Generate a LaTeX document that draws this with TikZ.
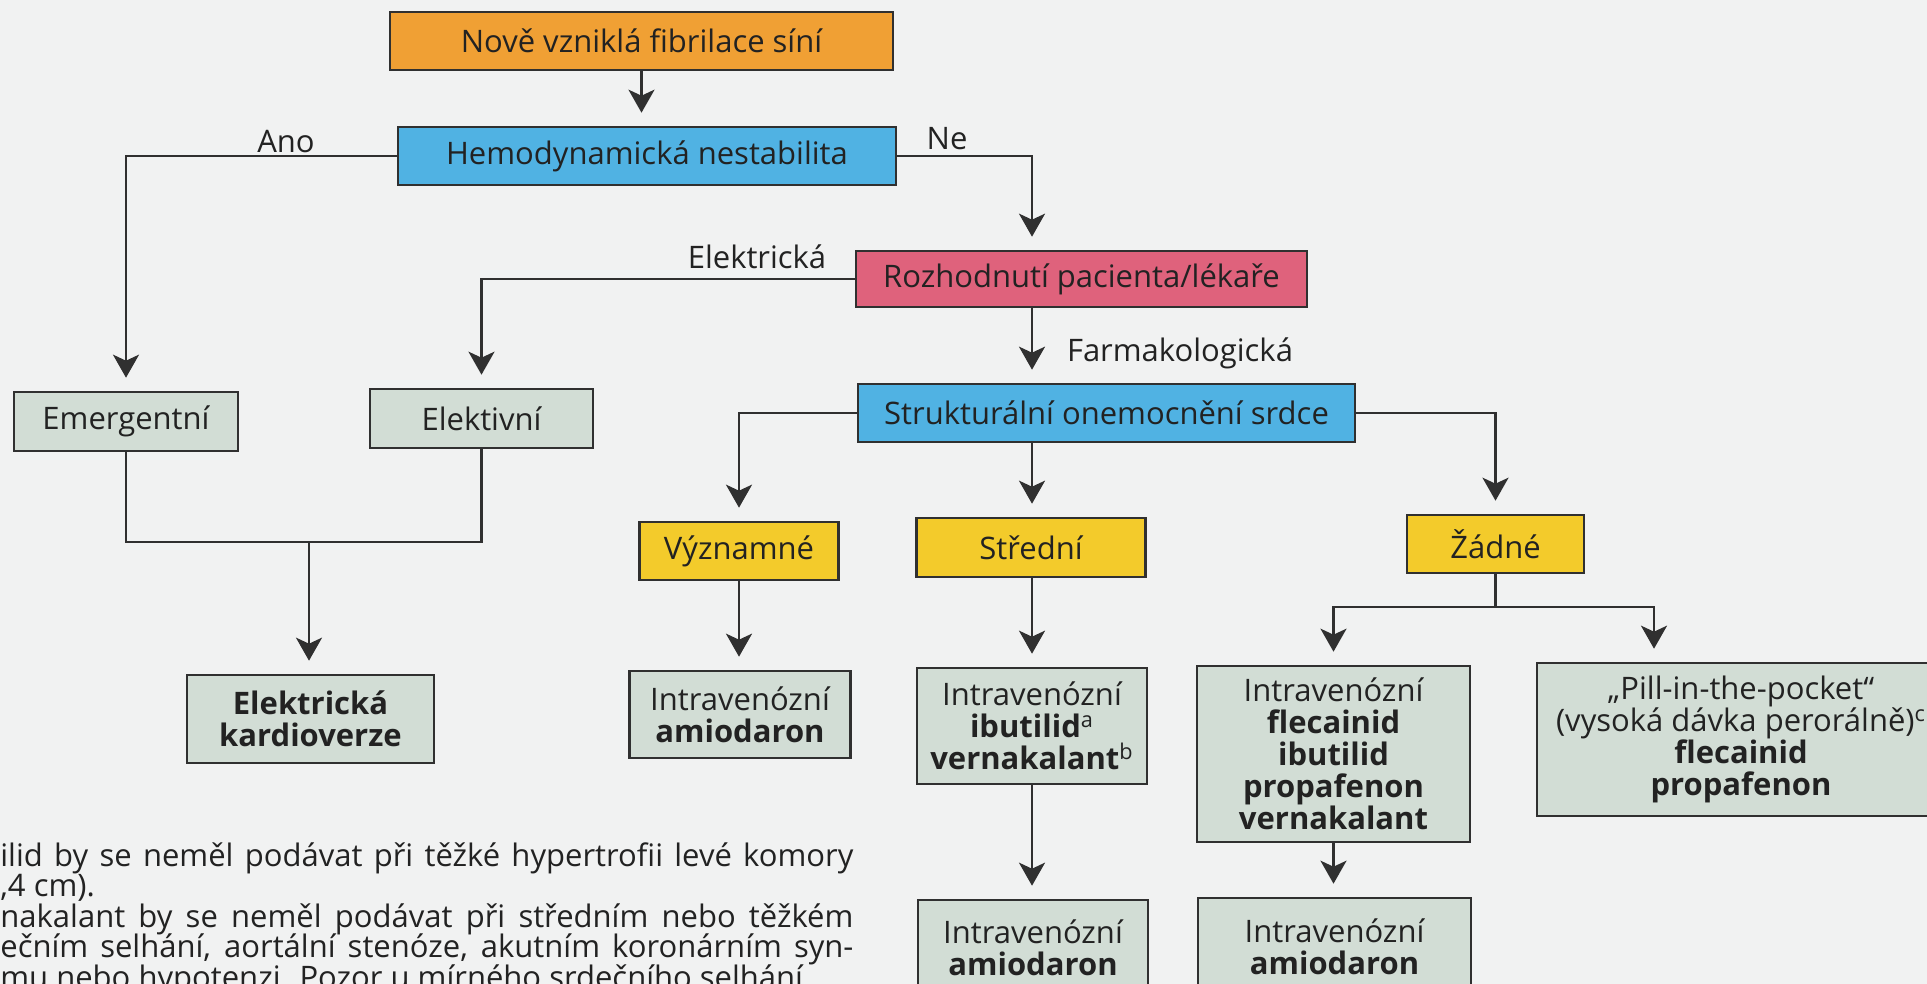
\documentclass[tikz,border=0pt]{standalone}
\usepackage{fontspec}
\setmainfont{Open Sans}
\usetikzlibrary{arrows.meta}

\definecolor{bg}{HTML}{F1F2F2}
\definecolor{linec}{HTML}{303030}
\definecolor{txt}{HTML}{222222}
\definecolor{orangebox}{HTML}{F0A034}
\definecolor{bluebox}{HTML}{50B2E3}
\definecolor{pinkbox}{HTML}{DF627C}
\definecolor{yellowbox}{HTML}{F3CB2B}
\definecolor{greybox}{HTML}{D2DDD5}

\newcommand{\chartfont}{\fontsize{15.5pt}{16pt}\selectfont}

\begin{document}
\begin{tikzpicture}[x=0.5pt, y=-0.5pt,
  box/.style={draw=linec, line width=1.3pt, inner sep=0pt, align=center,
              text=txt, font=\chartfont},
  sz/.style 2 args={minimum width=#1*0.5pt, minimum height=#2*0.5pt},
  orangefill/.style={fill=orangebox},
  bluefill/.style={fill=bluebox},
  pinkfill/.style={fill=pinkbox},
  yellowfill/.style={fill=yellowbox},
  greyfill/.style={fill=greybox},
  lbl/.style={anchor=base, inner sep=0pt, text=txt, font=\chartfont},
  note/.style={anchor=base west, inner sep=0pt, text=txt, font=\chartfont},
  conn/.style={draw=linec, line width=1.3pt},
  arr/.style={conn, -{Stealth[length=11.5pt, width=13pt, inset=3pt]}, shorten >=6.5pt}
]
% page and background
\useasboundingbox (0,0) rectangle (1927,984);
\clip (0,0) rectangle (1927,984);
\fill[bg] (0,0) rectangle (1927,984);

% top levels
\node[box, orangefill, sz={503}{58}] (top)  at (641.5,41)  {Nově vzniklá fibrilace síní};
\node[box, bluefill,   sz={498}{58}] (hemo) at (647,156)   {Hemodynamická nestabilita};
\node[box, pinkfill,   sz={451}{56}] (rozh) at (1081.5,279) {Rozhodnutí pacienta/lékaře};
\node[box, bluefill,   sz={497}{58}] (struk) at (1106.5,413) {Strukturální onemocnění srdce};

% electrical branch
\node[box, greyfill, sz={224}{59}] (emer) at (126,421.5)   {Emergentní};
\node[box, greyfill, sz={223}{59}] (elek) at (481.5,418.5) {Elektivní};
\node[box, greyfill, sz={247}{88}] (kard) at (310.5,719)   {\textbf{Elektrická}\\\textbf{kardioverze}};

% structural disease levels
\node[box, yellowfill, sz={199}{58}] (vyz)   at (739,551)    {Významné};
\node[box, yellowfill, sz={229}{59}] (stred) at (1031,547.5) {Střední};
\node[box, yellowfill, sz={177}{58}] (zadne) at (1495.5,544) {Žádné};

% drug boxes
\node[box, greyfill, sz={221}{87}]  (amio1) at (740,714.5)   {Intravenózní\\\textbf{amiodaron}};
\node[box, greyfill, sz={230}{116}] (ibut)  at (1032,726)    {Intravenózní\\\textbf{ibutilid}\textsuperscript{a}\\\textbf{vernakalant}\textsuperscript{b}};
\node[box, greyfill, sz={230}{95}]  (amio2) at (1033,947.5)  {Intravenózní\\\textbf{amiodaron}};
\node[box, greyfill, sz={273}{176}] (flec)  at (1333.5,754)  {Intravenózní\\\textbf{flecainid}\\\textbf{ibutilid}\\\textbf{propafenon}\\\textbf{vernakalant}};
\node[box, greyfill, sz={273}{97}]  (amio3) at (1334.5,946.5) {Intravenózní\\\textbf{amiodaron}};
\node[box, greyfill, sz={408}{153}] (pill)  at (1741,739.5)  {„Pill-in-the-pocket“\\(vysoká dávka perorálně)\textsuperscript{c}\\\textbf{flecainid}\\\textbf{propafenon}};

% branch labels
\node[lbl] (ano)   at (286,153)  {Ano};
\node[lbl] (ne)    at (947,150)  {Ne};
\node[lbl] (elekl) at (757,269)  {Elektrická};
\node[lbl] (farm)  at (1180,361) {Farmakologická};

% helper coordinates for bends
\coordinate (farmx) at (1032,0);
\coordinate (join)  at (309,542);
\coordinate (zj)    at (1495.5,607);
\coordinate (pillx) at (1654,607);

% connectors
\draw[arr] (top.south) -- (top.south |- hemo.north);
\draw[arr] (hemo.west) -| (emer.north);
\draw[arr] (hemo.east) -| (farmx |- rozh.north);
\draw[arr] (rozh.west) -| (elek.north);
\draw[arr] (farmx |- rozh.south) -- (farmx |- struk.north);

\draw[conn] (emer.south) |- (join) -| (elek.south);
\draw[arr] (join) -- (join |- kard.north);

\draw[arr] (struk.west) -| (vyz.north);
\draw[arr] (farmx |- struk.south) -- (farmx |- stred.north);
\draw[arr] (struk.east) -| (zadne.north);

\draw[arr] (vyz.south) -- (vyz.south |- amio1.north);
\draw[arr] (farmx |- stred.south) -- (farmx |- ibut.north);
\draw[arr] (farmx |- ibut.south) -- (farmx |- amio2.north);

\draw[conn] (zadne.south) -- (zj);
\draw[arr] (zj) -| (flec.north);
\draw[arr] (zj) -- (pillx) -- (pillx |- pill.north);
\draw[arr] (flec.south) -- (flec.south |- amio3.north);

% footnotes
\node[note] (fn1) at (0,866)   {\makebox[426.5pt][s]{ilid by se neměl podávat při těžké hypertrofii levé komory}};
\node[note] (fn2) at (0,896.5) {,4 cm).};
\node[note] (fn3) at (0,927)   {\makebox[426.5pt][s]{nakalant by se neměl podávat při středním nebo těžkém}};
\node[note] (fn4) at (0,957.5) {\makebox[426.5pt][s]{ečním selhání, aortální stenóze, akutním koronárním syn-}};
\node[note] (fn5) at (0,988)   {mu nebo hypotenzi. Pozor u mírného srdečního selhání.};
\end{tikzpicture}
\end{document}
